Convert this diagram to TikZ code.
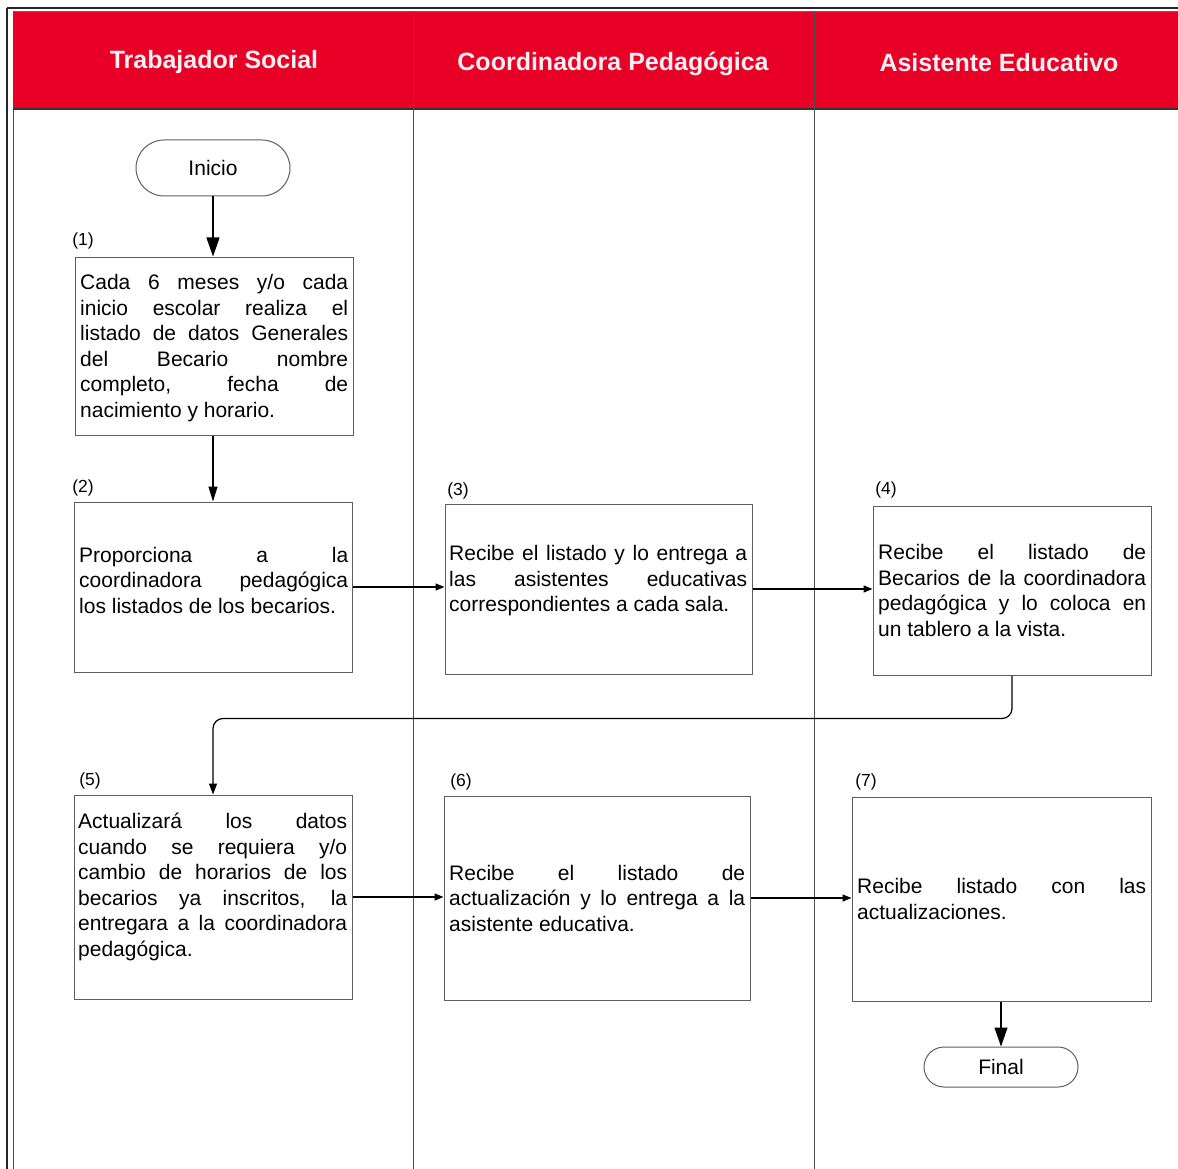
\documentclass[tikz,border=0pt]{standalone}
\usepackage{fontspec}
\setmainfont{Liberation Sans}
\usetikzlibrary{arrows.meta,shapes.misc}
\definecolor{hdrred}{RGB}{232,0,38}
\definecolor{hdrtext}{RGB}{252,240,242}
\definecolor{boxline}{RGB}{95,95,95}
\definecolor{laneline}{RGB}{80,80,80}
\newcommand{\bodytext}[2]{\parbox[c]{#1pt}{\fontsize{21}{25.5}\selectfont\hyphenpenalty=10000\tolerance=10000\emergencystretch=30pt\parfillskip=0pt plus 1fil #2}}
\begin{document}
\begin{tikzpicture}[x=1pt,y=-1pt,
  box/.style={draw=boxline, line width=1pt, inner sep=0pt, fill=white},
  term/.style={draw=boxline, line width=1pt, rounded rectangle, inner sep=0pt, fill=white, font=\fontsize{21}{25}\selectfont},
  txt/.style={anchor=west, inner sep=0pt},
  lbl/.style={inner sep=0pt, font=\fontsize{17.5}{20}\selectfont},
  hdr/.style={inner sep=0pt, text=hdrtext, font=\fontsize{25}{30}\selectfont\bfseries},
  conn/.style={draw=black, line width=1.2pt},
  tipbig/.style={-{Triangle[length=19pt,width=13pt]}},
  tipmid/.style={-{Triangle[length=15pt,width=9pt]}},
  tipsmall/.style={-{Triangle[length=11pt,width=8pt]}},
  tiph/.style={-{Triangle[length=9pt,width=7pt]}}
]
\useasboundingbox (0,0) rectangle (1178,1169);
% header band
\fill[hdrred] (13,12) rectangle (1178,109);
\draw[line width=2.5pt, black!85] (7,8) -- (1178,8);
\draw[line width=0.6pt, black!60] (13,11.5) -- (1178,11.5);
\draw[line width=2.2pt, black!85] (7,8) -- (7,1169);
\draw[line width=1pt, black!70] (13,11.5) -- (13,1169);
\draw[line width=1.6pt, black!80] (13,109) -- (1178,109);
% lane lines
\draw[line width=1pt, laneline] (413,11.5) -- (413,1169);
\draw[line width=1pt, laneline] (814,11.5) -- (814,1169);
% header texts
\node[hdr] (h1) at (214,62) {Trabajador Social};
\node[hdr] (h2) at (613,64) {Coordinadora Pedagógica};
\node[hdr] (h3) at (999,63) {Asistente Educativo};
% terminals
\node[term, minimum width=154pt, minimum height=56pt] (ini) at (213,168) {Inicio};
\node[term, minimum width=154pt, minimum height=40pt] (fin) at (1001,1067) {Final};
% boxes
\node[box, minimum width=278pt, minimum height=178pt] (b1) at (214,346) {};
\node[box, minimum width=278pt, minimum height=170pt] (b2) at (213,587) {};
\node[box, minimum width=307pt, minimum height=170pt] (b3) at (598.5,589) {};
\node[box, minimum width=278pt, minimum height=169pt] (b4) at (1012,590.5) {};
\node[box, minimum width=278pt, minimum height=204pt] (b5) at (213,897) {};
\node[box, minimum width=306pt, minimum height=204pt] (b6) at (597,898) {};
\node[box, minimum width=299pt, minimum height=204pt] (b7) at (1001.5,899) {};
% box texts
\node[txt] (t1) at (80,348) {\bodytext{268}{Cada 6 meses y/o cada\linebreak inicio escolar realiza el\linebreak listado de datos Generales\linebreak del Becario nombre\linebreak completo, fecha de\linebreak nacimiento y horario.}};
\node[txt] (t2) at (79,580) {\bodytext{269}{Proporciona a la\linebreak coordinadora pedagógica\linebreak los listados de los becarios.}};
\node[txt] (t3) at (449,581) {\bodytext{298}{Recibe el listado y lo entrega a\linebreak las asistentes educativas\linebreak correspondientes a cada sala.}};
\node[txt] (t4) at (878,590.5) {\bodytext{268}{Recibe el listado de\linebreak Becarios de la coordinadora\linebreak pedagógica y lo coloca en\linebreak un tablero a la vista.}};
\node[txt] (t5) at (78,887) {\bodytext{269}{Actualizará los datos\linebreak cuando se requiera y/o\linebreak cambio de horarios de los\linebreak becarios ya inscritos, la\linebreak entregara a la coordinadora\linebreak pedagógica.}};
\node[txt] (t6) at (449,898) {\bodytext{296}{Recibe el listado de\linebreak actualización y lo entrega a la\linebreak asistente educativa.}};
\node[txt] (t7) at (857,899) {\bodytext{289}{Recibe listado con las\linebreak actualizaciones.}};
% step labels
\node[lbl] (l1) at (83,241) {(1)};
\node[lbl] (l2) at (83,488) {(2)};
\node[lbl] (l3) at (458,491) {(3)};
\node[lbl] (l4) at (886,490) {(4)};
\node[lbl] (l5) at (90,781) {(5)};
\node[lbl] (l6) at (461,782) {(6)};
\node[lbl] (l7) at (866,782) {(7)};
% connectors
\draw[conn, tipbig] (ini.south) -- (ini.south |- b1.north);
\draw[conn, tipmid] (ini.south |- b1.south) -- (ini.south |- b2.north);
\draw[conn, tiph] (b2.east) -- (b2.east -| b3.west);
\draw[conn, tiph] (b3.east) -- (b3.east -| b4.west);
\draw[conn, tipsmall, rounded corners=10pt] (b4.south) -- ([yshift=-43pt]b4.south) -| (b5.north);
\draw[conn, tiph] (b5.east) -- (b5.east -| b6.west);
\draw[conn, tiph] (b6.east) -- (b6.east -| b7.west);
\draw[conn, tipbig] (fin.north |- b7.south) -- (fin.north);
\end{tikzpicture}
\end{document}
